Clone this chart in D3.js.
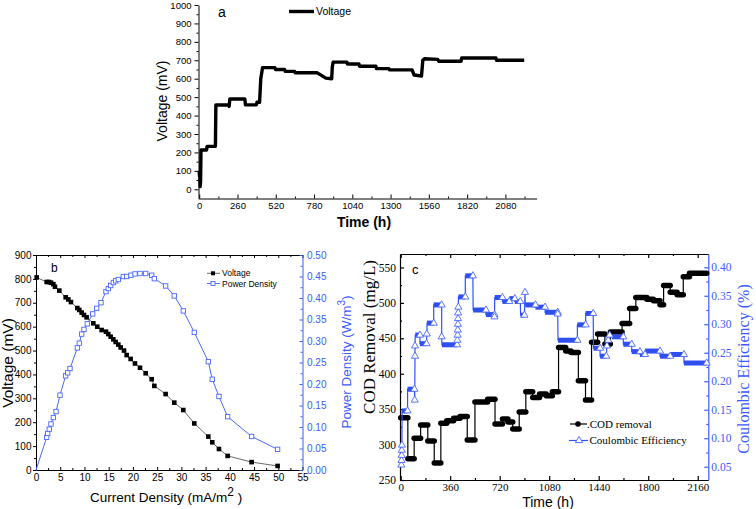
<!DOCTYPE html>
<html><head><meta charset="utf-8">
<script src="https://cdn.jsdelivr.net/npm/d3@7/dist/d3.min.js"></script>
<style>body{margin:0;background:#fff}svg{display:block}</style>
</head><body><svg id="chart" width="756" height="509"></svg>
<script>
// ---------- Panel a : voltage vs time ----------
const timeA = [0,2,4,6,9,12,50,53,110,113,198,203,208,310,314,388,392,410,418,430,514,518,580,584,648,652,800,830,860,900,904,910,1003,1007,1085,1089,1200,1204,1288,1292,1446,1460,1510,1519,1530,1620,1627,1779,1783,2016,2020,2208];
const voltA = [100,70,90,15,40,213,213,233,233,457,457,450,490,490,458,458,472,472,600,660,660,650,650,640,640,632,632,618,603,600,665,690,690,680,680,668,668,655,655,648,648,620,615,700,708,705,695,695,712,712,700,700];
const ticksAx = [0,260,520,780,1040,1300,1560,1820,2080];
const ticksAy = [0,100,200,300,400,500,600,700,800,900,1000];

// ---------- Panel b : polarization ----------
const currentV = [0.14,2.2,2.68,3.09,3.58,3.92,4.81,6.12,6.67,7.22,8.53,8.94,9.42,9.9,10.45,11.83,12.65,13.55,14.44,14.92,15.41,15.96,16.44,16.99,17.47,18.16,18.71,19.53,20.43,21.46,22.63,23.87,24.42,26.75,28.54,30.4,32.67,35.56,36.38,37.76,39.55,44.5,49.86];
const voltB = [806,787,787,784,778,767,751,723,714,703,678,670,659,649,639,614,600,586,579,569,558,547,536,525,513,500,481,465,446,428,405,380,352,318,282,251,195,140,116,88,59,33,17];
const currentP = [0,2.2,2.41,2.75,3.09,3.58,4.13,4.95,6.12,6.53,7.02,8.53,8.94,9.42,9.9,10.59,11.69,12.52,13.41,14.44,14.92,15.41,15.96,16.44,16.99,18.02,18.71,19.6,20.43,21.46,22.63,23.87,24.42,26.75,28.54,30.4,32.67,35.56,36.38,37.76,39.55,44.5,49.86];
const powerB = [0,0.076,0.085,0.095,0.107,0.122,0.136,0.174,0.219,0.226,0.236,0.284,0.295,0.316,0.327,0.340,0.363,0.376,0.389,0.415,0.422,0.429,0.436,0.440,0.443,0.450,0.450,0.453,0.456,0.457,0.457,0.453,0.445,0.428,0.405,0.370,0.320,0.252,0.211,0.171,0.124,0.078,0.048];
const ticksBx = [0,5,10,15,20,25,30,35,40,45,50,55];
const ticksBy = [0,100,200,300,400,500,600,700,800,900];
const ticksBy2 = [0,0.05,0.10,0.15,0.20,0.25,0.30,0.35,0.40,0.45,0.50];

// ---------- Panel c : COD removal & coulombic efficiency ----------
const codT = [0,52,98,145,197,244,292,335,385,432,484,540,632,686,740,780,815,862,910,960,1010,1058,1103,1148,1200,1238,1292,1344,1388,1432,1485,1525,1610,1665,1710,1790,1838,1886,1912,1960,2010,2055,2100];
const codV = [338,280,309,327.5,305,274,330,333.5,337,339.5,306.5,360,364,329,336,332,322,346,374.5,366.5,371.5,369,374.5,437,432,430,390,363,444.5,456,442,459,471,492,507.5,505,503,497.5,524.5,515,511.5,537,542];
const codEnd = 2225;
const ceT = [5,6,7,8,9,10,50,50,100,102,104,104,106,140,140,188,190,192,240,240,298,298,300,410,412,414,415,416,417,418,419,420,470,470,525,527,620,620,682,682,684,740,740,790,790,830,830,870,872,900,904,906,980,980,1050,1050,1142,1142,1144,1285,1285,1345,1345,1400,1402,1450,1450,1495,1500,1510,1520,1535,1619,1619,1680,1680,1740,1740,1777,1777,1886,1886,1960,1960,2060,2060,2225];
const ceV = [0.053,0.061,0.070,0.079,0.088,0.148,0.148,0.186,0.186,0.167,0.244,0.262,0.281,0.281,0.266,0.266,0.283,0.302,0.302,0.334,0.334,0.278,0.264,0.264,0.272,0.281,0.290,0.300,0.310,0.320,0.330,0.348,0.348,0.385,0.385,0.325,0.325,0.317,0.317,0.313,0.347,0.347,0.340,0.340,0.345,0.345,0.340,0.340,0.316,0.316,0.356,0.334,0.334,0.330,0.330,0.321,0.321,0.318,0.272,0.272,0.299,0.299,0.319,0.319,0.258,0.258,0.244,0.244,0.262,0.272,0.281,0.278,0.278,0.265,0.265,0.252,0.252,0.247,0.247,0.253,0.253,0.244,0.244,0.247,0.247,0.232,0.232];
const ticksCx = [0,360,720,1080,1440,1800,2160];
const ticksCy = [250,300,350,400,450,500,550];
const ticksCy2 = [0.05,0.10,0.15,0.20,0.25,0.30,0.35,0.40];

// ---------- drawing ----------
const svg = d3.select("#chart");
svg.append("rect").attr("width",756).attr("height",509).attr("fill","#fff");
const SANS = "Liberation Sans, Arial, sans-serif";
const SERIF = "Liberation Serif, Times New Roman, serif";
const BLUE = "#3b5bff";

function mids(arr){ const m=[]; for(let i=0;i<arr.length-1;i++) m.push((arr[i]+arr[i+1])/2); return m; }
function extendMinor(arr, dom){ const m = mids(arr); const st = arr[1]-arr[0];
  const lo = arr[0]-st/2, hi = arr[arr.length-1]+st/2;
  if (lo>=Math.min(dom[0],dom[1])) m.unshift(lo);
  if (hi<=Math.max(dom[0],dom[1])) m.push(hi);
  return m; }

function addAxis(o){
  const mk = {left:d3.axisLeft,right:d3.axisRight,bottom:d3.axisBottom,top:d3.axisTop}[o.orient];
  const color = o.color||"#000";
  if (o.minor){
    const gm = svg.append("g").attr("transform",`translate(${o.x},${o.y})`)
      .call(mk(o.scale).tickValues(o.minor).tickSize(o.mlen).tickFormat(""));
    gm.select(".domain").remove();
    gm.selectAll("line").attr("stroke",color).attr("stroke-width",o.sw||1);
  }
  const g = svg.append("g").attr("transform",`translate(${o.x},${o.y})`)
    .call(mk(o.scale).tickValues(o.major).tickSizeInner(o.len).tickSizeOuter(0)
      .tickPadding(o.pad==null?2:o.pad).tickFormat(o.labels===false?"":(o.fmt||d3.format("d"))));
  g.select(".domain").attr("stroke",color).attr("stroke-width",o.sw||1);
  g.selectAll("line").attr("stroke",color).attr("stroke-width",o.sw||1);
  g.selectAll("text").attr("fill",color).style("font-family",o.font||SANS).style("font-size",(o.size||10)+"px");
  return g;
}

// ===== Panel a =====
const xA = d3.scaleLinear().domain([-5,2292]).range([198.5,536.6]);
const yA = d3.scaleLinear().domain([-50,1000]).range([198.5,5]);
addAxis({orient:"bottom",scale:xA,x:0,y:198.5,major:ticksAx,minor:extendMinor(ticksAx,xA.domain()),len:-4,mlen:-2,pad:4,size:9.5});
addAxis({orient:"left",scale:yA,x:198.5,y:0,major:ticksAy,minor:extendMinor(ticksAy,yA.domain()).filter(v=>v>=0),len:4,mlen:2,pad:3,size:9.5});
svg.append("path").datum(timeA.map((t,i)=>[t,voltA[i]]))
  .attr("d",d3.line().x(d=>xA(d[0])).y(d=>yA(d[1])))
  .attr("fill","none").attr("stroke","#000").attr("stroke-width",3.4).attr("stroke-linejoin","round");
svg.append("line").attr("x1",289).attr("x2",314).attr("y1",11.5).attr("y2",11.5).attr("stroke","#000").attr("stroke-width",3.4);
svg.append("text").attr("x",316).attr("y",15.2).text("Voltage").style("font-family",SANS).style("font-size","10.5px");
svg.append("text").attr("x",218).attr("y",16.5).text("a").style("font-family",SANS).style("font-size","14px");
svg.append("text").attr("transform","translate(167,101) rotate(-90)").attr("text-anchor","middle")
  .text("Voltage (mV)").style("font-family",SANS).style("font-size","14px");
svg.append("text").attr("x",364).attr("y",227).attr("text-anchor","middle").text("Time (h)")
  .style("font-family",SANS).style("font-size","14px").style("font-weight","bold");

// ===== Panel b =====
const xB = d3.scaleLinear().domain([0,55]).range([36,302.5]);
const yB = d3.scaleLinear().domain([0,900]).range([470,255]);
const yB2 = d3.scaleLinear().domain([0,0.5]).range([470,255]);
addAxis({orient:"bottom",scale:xB,x:0,y:470,major:ticksBx,minor:mids(ticksBx),len:-3,mlen:-2,pad:4,size:10});
addAxis({orient:"top",scale:xB,x:0,y:255,major:ticksBx,minor:mids(ticksBx),len:-3,mlen:-2,labels:false});
addAxis({orient:"left",scale:yB,x:36,y:0,major:ticksBy,minor:mids(ticksBy),len:3,mlen:2,pad:1.5,size:10});
addAxis({orient:"right",scale:yB2,x:302.5,y:0,major:ticksBy2,minor:mids(ticksBy2),len:-3,mlen:-2,pad:4.5,size:10,color:BLUE,fmt:d3.format(".2f")});

svg.append("path").datum(currentP.map((c,i)=>[c,powerB[i]]))
  .attr("d",d3.line().x(d=>xB(d[0])).y(d=>yB2(d[1])))
  .attr("fill","none").attr("stroke","#4a68ff").attr("stroke-width",1);
svg.append("g").selectAll("rect").data(currentP.map((c,i)=>[c,powerB[i]]).slice(1)).join("rect")
  .attr("x",d=>xB(d[0])-2.2).attr("y",d=>yB2(d[1])-2.2).attr("width",4.4).attr("height",4.4)
  .attr("fill","#fff").attr("stroke","#4a68ff").attr("stroke-width",0.9);
svg.append("path").datum(currentV.map((c,i)=>[c,voltB[i]]))
  .attr("d",d3.line().x(d=>xB(d[0])).y(d=>yB(d[1])))
  .attr("fill","none").attr("stroke","#444").attr("stroke-width",0.8);
svg.append("g").selectAll("rect").data(currentV.map((c,i)=>[c,voltB[i]])).join("rect")
  .attr("x",d=>xB(d[0])-2.3).attr("y",d=>yB(d[1])-2.3).attr("width",4.6).attr("height",4.6).attr("fill","#000");

// legend b
svg.append("line").attr("x1",207).attr("x2",220).attr("y1",273.3).attr("y2",273.3).attr("stroke","#444").attr("stroke-width",0.8);
svg.append("rect").attr("x",211).attr("y",271.3).attr("width",4).attr("height",4).attr("fill","#000");
svg.append("text").attr("x",222).attr("y",276.3).text("Voltage").style("font-family",SANS).style("font-size","8.5px");
svg.append("line").attr("x1",207).attr("x2",220).attr("y1",283.5).attr("y2",283.5).attr("stroke","#4a68ff").attr("stroke-width",0.9);
svg.append("rect").attr("x",211).attr("y",281.5).attr("width",4).attr("height",4).attr("fill","#fff").attr("stroke","#4a68ff").attr("stroke-width",0.9);
svg.append("text").attr("x",222).attr("y",286.5).text("Power Density").style("font-family",SANS).style("font-size","8.5px");
svg.append("text").attr("x",51).attr("y",271.7).text("b").style("font-family",SANS).style("font-size","12px");
svg.append("text").attr("transform","translate(13,363) rotate(-90)").attr("text-anchor","middle")
  .text("Voltage (mV)").style("font-family",SANS).style("font-size","15.5px");
const pd = svg.append("text").attr("transform","translate(351,362) rotate(-90)").attr("text-anchor","middle")
  .style("font-family",SANS).style("font-size","13.5px").attr("fill",BLUE);
pd.append("tspan").text("Power Density (W/m");
pd.append("tspan").text("3").attr("dy",-6).style("font-size","10px");
pd.append("tspan").text(")").attr("dy",6);
const cd = svg.append("text").attr("x",90).attr("y",502).style("font-family",SANS).style("font-size","13.5px");
cd.append("tspan").text("Current Density (mA/m");
cd.append("tspan").text("2").attr("dy",-6).style("font-size","12px");
cd.append("tspan").text(" )").attr("dy",6);

// ===== Panel c =====
const xC = d3.scaleLinear().domain([-5,2237]).range([400,708.3]);
const yC = d3.scaleLinear().domain([250,569]).range([480,254]);
const yC2 = d3.scaleLinear().domain([0.0267,0.4233]).range([480,254]);
addAxis({orient:"bottom",scale:xC,x:0,y:480,major:ticksCx,minor:mids(ticksCx),len:-4,mlen:-2,pad:3,size:11,font:SERIF,sw:1.2});
addAxis({orient:"top",scale:xC,x:0,y:254,major:ticksCx,minor:mids(ticksCx),len:-4,mlen:-2,labels:false,sw:1.2});
addAxis({orient:"left",scale:yC,x:400,y:0,major:ticksCy,minor:extendMinor(ticksCy,yC.domain()),len:-4,mlen:-2,pad:4,size:11.5,font:SERIF,sw:1.2});
addAxis({orient:"right",scale:yC2,x:708.3,y:0,major:ticksCy2,minor:extendMinor(ticksCy2,yC2.domain()),len:-4,mlen:-2,pad:3,size:11.5,font:SERIF,color:BLUE,fmt:d3.format(".2f"),sw:1.2});

// COD step series
const codPts = [];
codT.forEach((t,i)=>{ const t1 = i<codT.length-1?codT[i+1]:codEnd; codPts.push([t,codV[i]],[t1,codV[i]]); });
svg.append("path").datum(codPts).attr("d",d3.line().x(d=>xC(d[0])).y(d=>yC(d[1])))
  .attr("fill","none").attr("stroke","#000").attr("stroke-width",1.2);
svg.append("g").selectAll("line").data(codV.map((v,i)=>[codT[i], i<codT.length-1?codT[i+1]:codEnd, v])).join("line")
  .attr("x1",d=>xC(d[0])).attr("x2",d=>xC(d[1])).attr("y1",d=>yC(d[2])).attr("y2",d=>yC(d[2]))
  .attr("stroke","#000").attr("stroke-width",5.5).attr("stroke-linecap","round");

// CE series
const cePts = ceT.map((t,i)=>[t,ceV[i]]);
svg.append("path").datum(cePts).attr("d",d3.line().x(d=>xC(d[0])).y(d=>yC2(d[1])))
  .attr("fill","none").attr("stroke","#2f52ff").attr("stroke-width",1.2);
const flats = [];
for (let i=0;i<cePts.length-1;i++) if (cePts[i][1]===cePts[i+1][1]) flats.push([cePts[i][0],cePts[i+1][0],cePts[i][1]]);
svg.append("g").selectAll("line").data(flats).join("line")
  .attr("x1",d=>xC(d[0])).attr("x2",d=>xC(d[1])).attr("y1",d=>yC2(d[2])).attr("y2",d=>yC2(d[2]))
  .attr("stroke","#2f4ef0").attr("stroke-width",5).attr("stroke-linecap","butt");
const tri = d3.symbol().type(d3.symbolTriangle).size(22);
const openPts = cePts.filter((d,i)=> !(i<cePts.length-1 && cePts[i+1][1]===d[1]));
svg.append("g").selectAll("path").data(openPts).join("path")
  .attr("transform",d=>`translate(${xC(d[0])},${yC2(d[1])})`).attr("d",tri)
  .attr("fill","#fff").attr("stroke","#4a68ff").attr("stroke-width",0.9);

// legend c
svg.append("line").attr("x1",570).attr("x2",587).attr("y1",424).attr("y2",424).attr("stroke","#000").attr("stroke-width",1.2);
svg.append("circle").attr("cx",578).attr("cy",424).attr("r",2.8).attr("fill","#000");
svg.append("text").attr("x",587).attr("y",427.5).text(".COD removal").style("font-family",SERIF).style("font-size","11px");
svg.append("line").attr("x1",569).attr("x2",588).attr("y1",440.5).attr("y2",440.5).attr("stroke","#2f52ff").attr("stroke-width",1.2);
svg.append("path").attr("transform","translate(579,440.5)").attr("d",tri).attr("fill","#fff").attr("stroke","#4a68ff").attr("stroke-width",0.9);
svg.append("text").attr("x",589.5).attr("y",444).text("Coulombic Efficiency").style("font-family",SERIF).style("font-size","11px");
svg.append("text").attr("x",412).attr("y",273.5).text("c").style("font-family",SANS).style("font-size","13px");
svg.append("text").attr("transform","translate(375,337) rotate(-90)").attr("text-anchor","middle")
  .text("COD Removal (mg/L)").style("font-family",SERIF).style("font-size","17px");
svg.append("text").attr("transform","translate(749,369) rotate(-90)").attr("text-anchor","middle")
  .text("Coulombic Efficiency (%)").style("font-family",SERIF).style("font-size","16px").attr("fill",BLUE);
svg.append("text").attr("x",548).attr("y",506.5).attr("text-anchor","middle").text("Time (h)")
  .style("font-family",SANS).style("font-size","14px");
</script></body></html>
